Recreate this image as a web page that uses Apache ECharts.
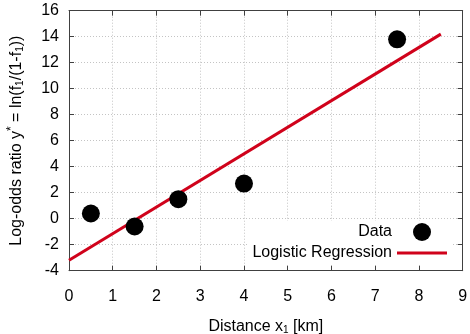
<!DOCTYPE html>
<html>
<head>
<meta charset="utf-8">
<script src="https://cdn.jsdelivr.net/npm/echarts@6/dist/echarts.min.js"></script>
<style>
  html, body { margin: 0; padding: 0; background: #fff; }
  #chart { width: 470px; height: 334px; }
</style>
</head>
<body>
<div id="chart"></div>
<script>
// Observed log-odds at each distance
const distances = [0.5, 1.5, 2.5, 4, 7.5];
const logOdds = [0.4, -0.6, 1.5, 2.7, 13.8];

// Fitted regression line end points (x, y*)
const fitX = [0, 8.5];
const fitY = [-3.2, 14.2];

const xTicks = { min: 0, max: 9, step: 1 };
const yTicks = { min: -4, max: 16, step: 2 };

const FONT = 'Liberation Sans';
const FS = 16;
const frame = '#404040';
const red = '#d0021b';
const gridDots = { color: '#c4c4c4', width: 1, type: [1, 2] };

const chart = echarts.init(document.getElementById('chart'), null, { renderer: 'canvas' });

const tickInside = { show: true, inside: true, length: 5, lineStyle: { color: frame, width: 1 } };

chart.setOption({
  animation: false,
  backgroundColor: '#fff',
  textStyle: { fontFamily: FONT },
  grid: { left: 69, top: 10.7, right: 7.3, bottom: 63.3, containLabel: false, outerBoundsMode: 'none' },
  legend: {
    orient: 'vertical',
    align: 'right',
    right: 19,
    top: 221,
    itemWidth: 50,
    itemHeight: 18,
    itemGap: 3,
    padding: [2, 4, 2, 4],
    backgroundColor: '#fff',
    textStyle: { fontFamily: FONT, fontSize: FS, color: '#000' },
    data: [
      { name: 'Data', icon: 'circle', itemStyle: { color: '#000', opacity: 1 } },
      {
        name: 'Logistic Regression',
        // thin horizontal bar, padded by empty moves so it is not stretched vertically
        icon: 'path://M0,0 L0,0 M0,7.5 L50,7.5 L50,10.5 L0,10.5 Z M50,18 L50,18',
        itemStyle: { color: red }
      }
    ]
  },
  xAxis: [
    {
      type: 'value', min: xTicks.min, max: xTicks.max, interval: xTicks.step,
      position: 'bottom',
      axisLine: { show: true, onZero: false, lineStyle: { color: frame, width: 1 } },
      axisTick: tickInside,
      axisLabel: { color: '#000', fontSize: FS, fontFamily: FONT, margin: 18 },
      splitLine: { show: true, lineStyle: gridDots },
      name: '{t|Distance x}{s|1}{t| [km]}',
      nameLocation: 'middle',
      nameGap: 47,
      nameTextStyle: {
        rich: {
          t: { fontSize: FS, fontFamily: FONT, color: '#000' },
          s: { fontSize: 10, fontFamily: FONT, color: '#000', padding: [8, 0, 0, 0] }
        }
      }
    },
    {
      type: 'value', min: xTicks.min, max: xTicks.max, interval: xTicks.step,
      position: 'top',
      axisLine: { show: true, onZero: false, lineStyle: { color: frame, width: 1 } },
      axisTick: tickInside,
      axisLabel: { show: false },
      splitLine: { show: false }
    }
  ],
  yAxis: [
    {
      type: 'value', min: yTicks.min, max: yTicks.max, interval: yTicks.step,
      position: 'left',
      axisLine: { show: true, onZero: false, lineStyle: { color: frame, width: 1 } },
      axisTick: tickInside,
      axisLabel: { color: '#000', fontSize: FS, fontFamily: FONT, margin: 10 },
      splitLine: { show: true, lineStyle: gridDots },
      name: '{t|Log-odds ratio y}{p|*}{t| = ln(f}{s|1}{t|/(1-f}{s|1}{t|))}',
      nameLocation: 'middle',
      nameRotate: 90,
      nameGap: 42,
      nameTextStyle: {
        rich: {
          t: { fontSize: FS, fontFamily: FONT, color: '#000' },
          s: { fontSize: 10, fontFamily: FONT, color: '#000', padding: [8, 0, 0, 0] },
          p: { fontSize: 12, fontFamily: FONT, color: '#000', padding: [0, 0, 9, 0] }
        }
      }
    },
    {
      type: 'value', min: yTicks.min, max: yTicks.max, interval: yTicks.step,
      position: 'right',
      axisLine: { show: true, onZero: false, lineStyle: { color: frame, width: 1 } },
      axisTick: tickInside,
      axisLabel: { show: false },
      splitLine: { show: false }
    }
  ],
  series: [
    {
      name: 'Logistic Regression',
      type: 'line',
      xAxisIndex: 0, yAxisIndex: 0,
      data: fitX.map((x, i) => [x, fitY[i]]),
      showSymbol: false,
      symbol: 'none',
      lineStyle: { color: red, width: 3 },
      itemStyle: { color: red },
      z: 3
    },
    {
      name: 'Data',
      type: 'scatter',
      xAxisIndex: 0, yAxisIndex: 0,
      data: distances.map((x, i) => [x, logOdds[i]]),
      symbol: 'circle',
      symbolSize: 18,
      itemStyle: { color: '#000', opacity: 1 },
      z: 4
    }
  ]
});
</script>
</body>
</html>
